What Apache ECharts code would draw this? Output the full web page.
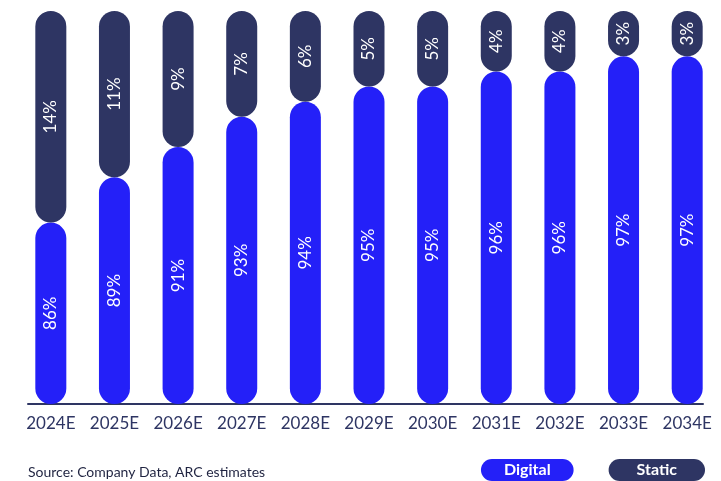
<!DOCTYPE html>
<html>
<head>
<meta charset="utf-8">
<script src="https://cdn.jsdelivr.net/npm/echarts@6/dist/echarts.min.js"></script>
<style>
  html, body { margin: 0; padding: 0; background: #fff; }
  #chart { width: 721px; height: 481px; }
</style>
</head>
<body>
<div id="chart"></div>
<script>
// Share of revenue by year, digital vs static (percent)
const years = ['2024E', '2025E', '2026E', '2027E', '2028E', '2029E', '2030E', '2031E', '2032E', '2033E', '2034E'];
const digital = [86, 89, 91, 93, 94, 95, 95, 96, 96, 97, 97];
const staticShare = [14, 11, 9, 7, 6, 5, 5, 4, 4, 3, 3];

const BLUE = '#2420F8';
const NAVY = '#2E3563';
const FONT = 'Lato, "Noto Sans", sans-serif';

const chart = echarts.init(document.getElementById('chart'), null, { renderer: 'canvas' });

const segLabel = {
  show: true,
  position: 'inside',
  rotate: 90,
  color: '#ffffff',
  fontFamily: FONT,
  fontSize: 17,
  formatter: p => p.value + '%'
};

// rounded pill behind each legend name
const pill = (color, padX) => ({
  color: '#fff', fontWeight: 'bold', fontSize: 16, fontFamily: FONT,
  backgroundColor: color, borderRadius: 11, padding: [3, padX, 3, padX],
  lineHeight: 16
});

chart.setOption({
  animation: false,
  textStyle: { fontFamily: FONT },
  grid: [
    { left: 19, right: 2, top: 11, bottom: 77 },
    { left: 28, right: 18, top: 11, bottom: 77 }
  ],
  xAxis: [
    {
      type: 'category',
      data: years,
      gridIndex: 0,
      axisLine: { show: false },
      axisTick: { show: false },
      axisLabel: { color: NAVY, fontSize: 17, fontFamily: FONT, margin: 11, interval: 0 }
    },
    {
      type: 'value',
      gridIndex: 1,
      axisLine: { show: true, onZero: false, lineStyle: { color: NAVY, width: 2 } },
      axisTick: { show: false },
      axisLabel: { show: false },
      splitLine: { show: false }
    }
  ],
  yAxis: [
    { type: 'value', gridIndex: 0, min: 74, max: 100, show: false },
    { type: 'value', gridIndex: 1, show: false }
  ],
  legend: {
    bottom: 0,
    right: 16,
    padding: 0,
    itemWidth: 0,
    itemHeight: 0,
    itemGap: 30,
    icon: 'rect',
    selectedMode: false,
    data: [
      { name: 'Digital', textStyle: pill(BLUE, 23) },
      { name: 'Static', textStyle: pill(NAVY, 28) }
    ]
  },
  graphic: [
    {
      type: 'text',
      left: 28,
      bottom: 2,
      style: {
        text: 'Source: Company Data, ARC estimates',
        fill: '#1f2340',
        fontSize: 14,
        fontFamily: FONT
      }
    }
  ],
  series: [
    {
      name: 'Digital',
      type: 'bar',
      stack: 'share',
      barWidth: 31,
      data: digital,
      itemStyle: { color: BLUE, borderRadius: 15.5 },
      label: segLabel
    },
    {
      name: 'Static',
      type: 'bar',
      stack: 'share',
      barWidth: 31,
      data: staticShare,
      itemStyle: { color: NAVY, borderRadius: 15.5 },
      label: segLabel
    }
  ]
});
</script>
</body>
</html>
